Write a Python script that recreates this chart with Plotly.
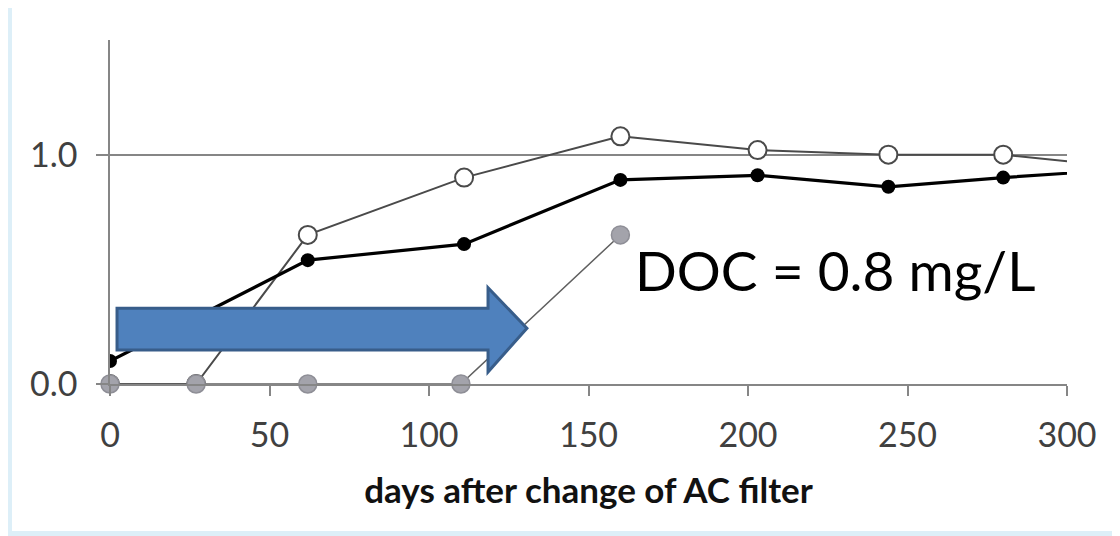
import plotly.graph_objects as go

# ---- data ----
days_open = [0, 27, 62, 111, 160, 203, 244, 280, 322]
vals_open = [0.0, 0.0, 0.65, 0.90, 1.08, 1.02, 1.00, 1.00, 0.94]

days_black = [0, 62, 111, 160, 203, 244, 280, 322]
vals_black = [0.10, 0.54, 0.61, 0.89, 0.91, 0.86, 0.90, 0.94]

days_gray = [0, 27, 62, 110, 160]
vals_gray = [0.0, 0.0, 0.0, 0.0, 0.65]

x_ticks = [0, 50, 100, 150, 200, 250, 300]
y_ticks = [0.0, 1.0]
y_tick_text = ["0.0", "1.0"]

annotation_text = "DOC = 0.8 mg/L"
x_title = "days after change of AC filter"

FONT = "Lato"
AX = "#868686"

fig = go.Figure()

fig.add_trace(go.Scatter(
    x=days_open, y=vals_open, mode="lines+markers",
    line=dict(color="#4a4a4a", width=2),
    marker=dict(size=18, color="white", line=dict(color="#4a4a4a", width=2)),
    cliponaxis=True, showlegend=False))

fig.add_trace(go.Scatter(
    x=days_gray, y=vals_gray, mode="lines+markers",
    line=dict(color="#606060", width=1.5),
    marker=dict(size=18, color="#a3a3ab", line=dict(color="#8e8e96", width=1.5)),
    cliponaxis=False, showlegend=False))

fig.add_trace(go.Scatter(
    x=days_black, y=vals_black, mode="lines+markers",
    line=dict(color="black", width=3.2),
    marker=dict(size=14, color="black"),
    cliponaxis=True, showlegend=False))

# white panel on light-blue background
fig.add_shape(type="rect", xref="paper", yref="paper",
              x0=-0.1024, x1=1.0533, y0=-0.4273, y1=1.1076,
              fillcolor="white", line=dict(width=0), layer="below")

# blue arrow
ax = [2.2, 118.5, 118.5, 130.7, 118.5, 118.5, 2.2]
ay = [0.33, 0.33, 0.42, 0.243, 0.052, 0.148, 0.148]
path = "M " + " L ".join(f"{a},{b}" for a, b in zip(ax, ay)) + " Z"
fig.add_shape(type="path", xref="x", yref="y", path=path,
              fillcolor="#4f81bd", line=dict(color="#385d8a", width=3), layer="above")

fig.add_annotation(x=0.7576, y=0.331, xref="paper", yref="paper",
                   xanchor="center", yanchor="middle",
                   text=annotation_text, showarrow=False,
                   font=dict(family=FONT, size=55, color="black"))

fig.update_xaxes(range=[0, 300], tickvals=x_ticks, showgrid=False,
                 showline=True, linecolor=AX, linewidth=1.5,
                 ticks="outside", ticklen=10, tickcolor=AX, tickwidth=1.5,
                 ticklabelstandoff=10,
                 tickfont=dict(family=FONT, size=34, color="#404040"),
                 title=dict(text="<b>" + x_title + "</b>", standoff=26,
                            font=dict(family=FONT, size=35, color="#111111")),
                 zeroline=False)
fig.update_yaxes(range=[0, 1.5], tickvals=y_ticks, ticktext=y_tick_text,
                 showgrid=True, gridcolor=AX, gridwidth=1.5,
                 showline=True, linecolor=AX, linewidth=1.5,
                 ticks="outside", ticklen=12, tickcolor=AX, tickwidth=1.5,
                 ticklabelstandoff=12,
                 tickfont=dict(family=FONT, size=34, color="#404040"),
                 zeroline=False)

fig.update_layout(width=1120, height=536,
                  margin=dict(l=102, r=61, t=32, b=160),
                  paper_bgcolor="#ddeff8", plot_bgcolor="white")

fig.write_html("out.html")
